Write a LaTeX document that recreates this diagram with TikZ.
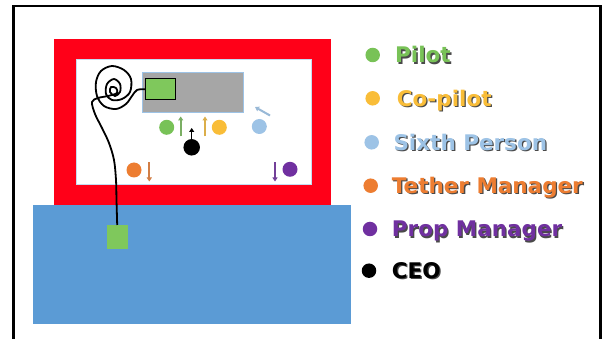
\documentclass[tikz,border=0pt]{standalone}
\usepackage{fontspec}
\setmainfont{DejaVu Sans}
\usetikzlibrary{arrows.meta}
\definecolor{pgreen}{HTML}{78C257}
\definecolor{cgold}{HTML}{F9BD38}
\definecolor{sblue}{HTML}{9DC3E6}
\definecolor{torange}{HTML}{ED7D31}
\definecolor{ppurple}{HTML}{7030A0}
\definecolor{redf}{HTML}{FF0018}
\definecolor{waterb}{HTML}{5B9BD5}
\definecolor{grayb}{HTML}{A6A6A6}
\definecolor{boxg}{HTML}{7FC85C}
\definecolor{shade}{HTML}{4A4A4A}
\newcommand{\shadowtxt}[1]{\makebox[0pt][l]{\hspace{1.3pt}\raisebox{-1.3pt}{\color{shade}#1}}#1}
\tikzset{
  person/.style={circle, inner sep=0pt, minimum size=15pt, fill=#1},
  key/.style={circle, inner sep=0pt, minimum size=14.5pt, fill=#1},
  keytext/.style={anchor=base west, inner sep=0pt, font=\bfseries\fontsize{21.5}{24}\selectfont, text=#1},
  move/.style={draw=#1, line width=2pt, -{Triangle[length=4pt,width=5pt]}},
}
\begin{document}
\begin{tikzpicture}[x=1pt,y=-1pt]
\useasboundingbox (0,0) rectangle (603,339);
\fill[white] (0,0) rectangle (603,339);
% outer frame
\draw[line width=2.6pt] (13.5,339) -- (13.5,6) -- (600.5,6) -- (600.5,339);
% boat
\fill[redf] (54,39) rectangle (331,205);
\filldraw[fill=white, draw=sblue!60, line width=0.6pt] (76,59) rectangle (311,184);
% water
\fill[waterb] (33,205) rectangle (351,324);
% control box
\node[draw=sblue, line width=0.8pt, fill=grayb, minimum width=101.6pt, minimum height=40pt, inner sep=0pt, anchor=north west] (panel) at (141.7,71.7) {};
\node[draw=black, line width=0.8pt, fill=boxg, minimum width=30pt, minimum height=21pt, inner sep=0pt, anchor=north west] (ctrl) at (145,78.3) {};
% anchor square
\node[fill=boxg, minimum width=20.6pt, minimum height=24.3pt, inner sep=0pt, anchor=north west] (tag) at (106.7,225) {};
% tether
\draw[line width=1.8pt, line join=round] plot[smooth, tension=0.55] coordinates {
 (ctrl.west) (137,90) (132,96) (126,104) (116,109) (104,106) (97,96) (96,82) (101,71) (112,66) (124,70) (131,79) (130,92) (122,99) (112,100) (106,94) (107,84) (114,79) (120,84) (120,92) (115,96) (110,92) (111,87) (116,88) (117,93) (108,96) (98,98) (92,102) (95,114) (102,128) (109,143) (114,160) (116,180) (116.5,200) (tag.north)};
% people
\node[person=pgreen] (pilot) at (166.7,127.3) {};
\node[person=cgold] (copilot) at (219.3,127.3) {};
\node[person=sblue] (sixth) at (259.3,126.5) {};
\node[person=torange] (tether) at (134,170) {};
\node[person=ppurple] (prop) at (290,169.3) {};
\node[person=black, minimum size=16.5pt] (ceo) at (191.7,147.3) {};
% movement arrows
\coordinate (pa0) at (180.7,136.5); \coordinate (pa1) at (180.7,116.5);
\coordinate (ca0) at (205,136.5); \coordinate (ca1) at (205,116.5);
\coordinate (sa0) at (270,115.5); \coordinate (sa1) at (255,107);
\coordinate (ta0) at (149.3,162.5); \coordinate (ta1) at (149.3,181.5);
\coordinate (ra0) at (275,162.5); \coordinate (ra1) at (275,181.5);
\coordinate (ea1) at (191.7,128);
\draw[move=pgreen!70!gray] (pa0) -- (pa1);
\draw[move=cgold!75!gray] (ca0) -- (ca1);
\draw[move=sblue!85!gray] (sa0) -- (sa1);
\draw[move=torange!75!gray] (ta0) -- (ta1);
\draw[move=ppurple!80!gray] (ra0) -- (ra1);
\draw[move=black, line width=1.5pt] (ceo.center) -- (ea1);
% legend
\node[key=pgreen] (k1) at (372.7,55) {};
\node[key=cgold] (k2) at (372.7,98.3) {};
\node[key=sblue] (k3) at (371.7,142.3) {};
\node[key=torange] (k4) at (370.7,185.7) {};
\node[key=ppurple] (k5) at (370,229) {};
\node[key=black] (k6) at (369,270.7) {};
\node[keytext=pgreen] (t1) at (395,63) {\shadowtxt{Pilot}};
\node[keytext=cgold] (t2) at (396.7,106.3) {\shadowtxt{Co-pilot}};
\node[keytext=sblue] (t3) at (393.3,150.3) {\shadowtxt{Sixth Person}};
\node[keytext=torange] (t4) at (391.7,193.7) {\shadowtxt{Tether Manager}};
\node[keytext=ppurple] (t5) at (391.7,237) {\shadowtxt{Prop Manager}};
\node[keytext=black] (t6) at (391.7,278.7) {\shadowtxt{CEO}};
\end{tikzpicture}
\end{document}
